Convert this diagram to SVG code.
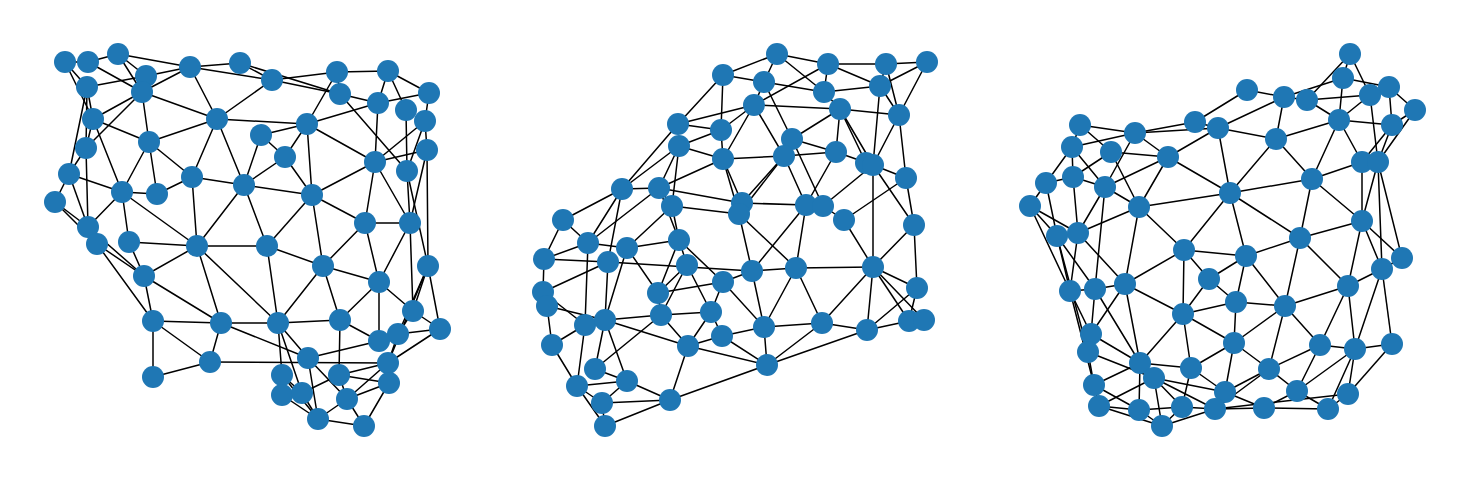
<svg xmlns="http://www.w3.org/2000/svg" width="1469" height="480" viewBox="0 0 1469 480">
<style>
.e line{stroke:#000;stroke-width:1.5;stroke-linecap:round}
.n circle{fill:#1f77b4}
</style>
<rect width="1469" height="480" fill="#fff"/>
<g id="connectors" class="e">
<line x1="65" y1="62" x2="88" y2="62"/><line x1="88" y1="62" x2="118" y2="54"/><line x1="65" y1="62" x2="87" y2="87"/><line x1="65" y1="62" x2="93" y2="119"/><line x1="87" y1="87" x2="93" y2="119"/><line x1="87" y1="87" x2="86" y2="148"/><line x1="87" y1="87" x2="69" y2="174"/><line x1="118" y1="54" x2="146" y2="76"/><line x1="118" y1="54" x2="142" y2="92"/><line x1="88" y1="62" x2="142" y2="92"/><line x1="118" y1="54" x2="190" y2="67"/><line x1="146" y1="76" x2="190" y2="67"/><line x1="87" y1="87" x2="146" y2="76"/><line x1="142" y1="92" x2="190" y2="67"/><line x1="190" y1="67" x2="240" y2="63"/><line x1="190" y1="67" x2="272" y2="80"/><line x1="190" y1="67" x2="217" y2="119"/><line x1="142" y1="92" x2="217" y2="119"/><line x1="142" y1="92" x2="93" y2="119"/><line x1="142" y1="92" x2="86" y2="148"/><line x1="142" y1="92" x2="149" y2="142"/><line x1="240" y1="63" x2="272" y2="80"/><line x1="240" y1="63" x2="340" y2="94"/><line x1="272" y1="80" x2="340" y2="94"/><line x1="272" y1="80" x2="337" y2="72"/><line x1="272" y1="80" x2="217" y2="119"/><line x1="337" y1="72" x2="340" y2="94"/><line x1="337" y1="72" x2="388" y2="71"/><line x1="337" y1="72" x2="307" y2="124"/><line x1="340" y1="94" x2="378" y2="103"/><line x1="340" y1="94" x2="407" y2="171"/><line x1="388" y1="71" x2="378" y2="103"/><line x1="388" y1="71" x2="406" y2="110"/><line x1="388" y1="71" x2="429" y2="93"/><line x1="429" y1="93" x2="378" y2="103"/><line x1="429" y1="93" x2="425" y2="121"/><line x1="378" y1="103" x2="375" y2="162"/><line x1="378" y1="103" x2="307" y2="124"/><line x1="406" y1="110" x2="407" y2="171"/><line x1="425" y1="121" x2="427" y2="150"/><line x1="425" y1="121" x2="375" y2="162"/><line x1="427" y1="150" x2="375" y2="162"/><line x1="427" y1="150" x2="410" y2="223"/><line x1="427" y1="150" x2="428" y2="266"/><line x1="425" y1="121" x2="407" y2="171"/>
<line x1="217" y1="119" x2="307" y2="124"/><line x1="217" y1="119" x2="149" y2="142"/><line x1="217" y1="119" x2="192" y2="177"/><line x1="217" y1="119" x2="244" y2="185"/><line x1="307" y1="124" x2="261" y2="135"/><line x1="307" y1="124" x2="285" y2="157"/><line x1="307" y1="124" x2="312" y2="195"/><line x1="307" y1="124" x2="375" y2="162"/><line x1="261" y1="135" x2="285" y2="157"/><line x1="261" y1="135" x2="244" y2="185"/><line x1="285" y1="157" x2="244" y2="185"/><line x1="285" y1="157" x2="312" y2="195"/><line x1="244" y1="185" x2="312" y2="195"/><line x1="312" y1="195" x2="375" y2="162"/><line x1="312" y1="195" x2="365" y2="223"/><line x1="312" y1="195" x2="267" y2="246"/><line x1="312" y1="195" x2="323" y2="266"/><line x1="375" y1="162" x2="365" y2="223"/><line x1="375" y1="162" x2="410" y2="223"/><line x1="365" y1="223" x2="410" y2="223"/><line x1="407" y1="171" x2="410" y2="223"/><line x1="407" y1="171" x2="428" y2="266"/><line x1="365" y1="223" x2="323" y2="266"/><line x1="365" y1="223" x2="379" y2="282"/><line x1="410" y1="223" x2="379" y2="282"/><line x1="410" y1="223" x2="413" y2="311"/><line x1="244" y1="185" x2="267" y2="246"/><line x1="244" y1="185" x2="192" y2="177"/><line x1="244" y1="185" x2="197" y2="246"/><line x1="192" y1="177" x2="157" y2="194"/><line x1="192" y1="177" x2="197" y2="246"/><line x1="149" y1="142" x2="93" y2="119"/><line x1="149" y1="142" x2="122" y2="192"/><line x1="149" y1="142" x2="157" y2="194"/><line x1="149" y1="142" x2="192" y2="177"/><line x1="93" y1="119" x2="122" y2="192"/><line x1="93" y1="119" x2="86" y2="148"/><line x1="86" y1="148" x2="69" y2="174"/><line x1="86" y1="148" x2="88" y2="227"/><line x1="69" y1="174" x2="122" y2="192"/><line x1="69" y1="174" x2="55" y2="202"/><line x1="69" y1="174" x2="88" y2="227"/><line x1="55" y1="202" x2="88" y2="227"/><line x1="55" y1="202" x2="97" y2="244"/><line x1="122" y1="192" x2="157" y2="194"/><line x1="122" y1="192" x2="88" y2="227"/><line x1="122" y1="192" x2="129" y2="242"/><line x1="122" y1="192" x2="197" y2="246"/><line x1="129" y1="242" x2="197" y2="246"/><line x1="197" y1="246" x2="267" y2="246"/><line x1="197" y1="246" x2="144" y2="276"/><line x1="197" y1="246" x2="221" y2="323"/><line x1="197" y1="246" x2="278" y2="323"/><line x1="88" y1="227" x2="144" y2="276"/><line x1="97" y1="244" x2="144" y2="276"/><line x1="97" y1="244" x2="153" y2="321"/><line x1="129" y1="242" x2="144" y2="276"/><line x1="144" y1="276" x2="221" y2="323"/><line x1="144" y1="276" x2="153" y2="321"/><line x1="153" y1="321" x2="221" y2="323"/><line x1="153" y1="321" x2="210" y2="362"/><line x1="153" y1="321" x2="153" y2="377"/><line x1="153" y1="377" x2="210" y2="362"/><line x1="221" y1="323" x2="210" y2="362"/><line x1="221" y1="323" x2="278" y2="323"/><line x1="221" y1="323" x2="308" y2="358"/><line x1="210" y1="362" x2="388" y2="363"/><line x1="267" y1="246" x2="323" y2="266"/><line x1="267" y1="246" x2="278" y2="323"/><line x1="323" y1="266" x2="379" y2="282"/><line x1="323" y1="266" x2="278" y2="323"/><line x1="323" y1="266" x2="340" y2="320"/><line x1="379" y1="282" x2="340" y2="320"/><line x1="379" y1="282" x2="413" y2="311"/><line x1="379" y1="282" x2="379" y2="341"/><line x1="428" y1="266" x2="440" y2="329"/><line x1="428" y1="266" x2="398" y2="334"/><line x1="428" y1="266" x2="388" y2="363"/><line x1="413" y1="311" x2="440" y2="329"/><line x1="413" y1="311" x2="398" y2="334"/><line x1="440" y1="329" x2="398" y2="334"/><line x1="440" y1="329" x2="388" y2="363"/><line x1="278" y1="323" x2="340" y2="320"/><line x1="278" y1="323" x2="282" y2="375"/><line x1="278" y1="323" x2="302" y2="393"/><line x1="278" y1="323" x2="308" y2="358"/><line x1="340" y1="320" x2="379" y2="341"/><line x1="340" y1="320" x2="339" y2="375"/><line x1="308" y1="358" x2="379" y2="341"/><line x1="308" y1="358" x2="318" y2="419"/><line x1="308" y1="358" x2="347" y2="399"/><line x1="388" y1="363" x2="339" y2="375"/><line x1="388" y1="363" x2="347" y2="399"/><line x1="388" y1="363" x2="389" y2="383"/><line x1="398" y1="334" x2="388" y2="363"/><line x1="282" y1="375" x2="282" y2="395"/><line x1="282" y1="375" x2="302" y2="393"/><line x1="339" y1="375" x2="389" y2="383"/><line x1="339" y1="375" x2="302" y2="393"/><line x1="339" y1="375" x2="347" y2="399"/><line x1="389" y1="383" x2="347" y2="399"/><line x1="389" y1="383" x2="364" y2="426"/><line x1="282" y1="395" x2="318" y2="419"/><line x1="302" y1="393" x2="318" y2="419"/><line x1="347" y1="399" x2="318" y2="419"/><line x1="318" y1="419" x2="364" y2="426"/><line x1="347" y1="399" x2="364" y2="426"/><line x1="398" y1="334" x2="379" y2="341"/><line x1="413" y1="311" x2="428" y2="266"/><line x1="282" y1="375" x2="318" y2="419"/>
<line x1="777" y1="54" x2="723" y2="75"/><line x1="777" y1="54" x2="828" y2="64"/><line x1="777" y1="54" x2="824" y2="92"/><line x1="777" y1="54" x2="764" y2="82"/><line x1="828" y1="64" x2="886" y2="64"/><line x1="828" y1="64" x2="824" y2="92"/><line x1="828" y1="64" x2="880" y2="86"/><line x1="828" y1="64" x2="754" y2="105"/><line x1="886" y1="64" x2="927" y2="62"/><line x1="886" y1="64" x2="880" y2="86"/><line x1="886" y1="64" x2="899" y2="115"/><line x1="927" y1="62" x2="880" y2="86"/><line x1="927" y1="62" x2="899" y2="115"/><line x1="723" y1="75" x2="764" y2="82"/><line x1="723" y1="75" x2="678" y2="124"/><line x1="723" y1="75" x2="721" y2="130"/><line x1="764" y1="82" x2="824" y2="92"/><line x1="764" y1="82" x2="754" y2="105"/><line x1="764" y1="82" x2="792" y2="139"/><line x1="824" y1="92" x2="880" y2="86"/><line x1="824" y1="92" x2="840" y2="109"/><line x1="880" y1="86" x2="899" y2="115"/><line x1="880" y1="86" x2="873" y2="165"/><line x1="754" y1="105" x2="840" y2="109"/><line x1="754" y1="105" x2="678" y2="124"/><line x1="754" y1="105" x2="721" y2="130"/><line x1="754" y1="105" x2="723" y2="159"/><line x1="754" y1="105" x2="784" y2="156"/><line x1="840" y1="109" x2="899" y2="115"/><line x1="840" y1="109" x2="792" y2="139"/><line x1="840" y1="109" x2="836" y2="152"/><line x1="840" y1="109" x2="866" y2="163"/><line x1="840" y1="109" x2="873" y2="165"/><line x1="899" y1="115" x2="873" y2="165"/><line x1="899" y1="115" x2="906" y2="178"/><line x1="678" y1="124" x2="721" y2="130"/><line x1="678" y1="124" x2="622" y2="189"/><line x1="721" y1="130" x2="679" y2="146"/><line x1="721" y1="130" x2="723" y2="159"/><line x1="679" y1="146" x2="723" y2="159"/><line x1="679" y1="146" x2="622" y2="189"/><line x1="679" y1="146" x2="659" y2="188"/><line x1="679" y1="146" x2="672" y2="206"/><line x1="723" y1="159" x2="659" y2="188"/><line x1="723" y1="159" x2="742" y2="203"/><line x1="723" y1="159" x2="739" y2="214"/><line x1="723" y1="159" x2="784" y2="156"/><line x1="792" y1="139" x2="836" y2="152"/><line x1="792" y1="139" x2="823" y2="206"/><line x1="784" y1="156" x2="836" y2="152"/><line x1="784" y1="156" x2="742" y2="203"/><line x1="784" y1="156" x2="739" y2="214"/><line x1="784" y1="156" x2="806" y2="205"/><line x1="836" y1="152" x2="873" y2="165"/><line x1="836" y1="152" x2="806" y2="205"/><line x1="873" y1="165" x2="906" y2="178"/><line x1="873" y1="165" x2="823" y2="206"/><line x1="873" y1="165" x2="873" y2="267"/><line x1="873" y1="165" x2="914" y2="225"/><line x1="906" y1="178" x2="844" y2="220"/><line x1="906" y1="178" x2="914" y2="225"/><line x1="622" y1="189" x2="659" y2="188"/><line x1="622" y1="189" x2="563" y2="220"/><line x1="622" y1="189" x2="588" y2="243"/><line x1="622" y1="189" x2="608" y2="262"/><line x1="659" y1="188" x2="672" y2="206"/><line x1="659" y1="188" x2="742" y2="203"/><line x1="659" y1="188" x2="588" y2="243"/><line x1="659" y1="188" x2="679" y2="240"/><line x1="672" y1="206" x2="739" y2="214"/><line x1="672" y1="206" x2="679" y2="240"/><line x1="672" y1="206" x2="627" y2="248"/><line x1="742" y1="203" x2="806" y2="205"/><line x1="739" y1="214" x2="752" y2="271"/><line x1="806" y1="205" x2="796" y2="268"/><line x1="806" y1="205" x2="752" y2="271"/><line x1="823" y1="206" x2="844" y2="220"/><line x1="739" y1="214" x2="796" y2="268"/><line x1="844" y1="220" x2="873" y2="267"/><line x1="914" y1="225" x2="917" y2="288"/><line x1="914" y1="225" x2="873" y2="267"/><line x1="563" y1="220" x2="588" y2="243"/><line x1="563" y1="220" x2="544" y2="259"/><line x1="588" y1="243" x2="544" y2="259"/><line x1="588" y1="243" x2="627" y2="248"/><line x1="588" y1="243" x2="585" y2="325"/><line x1="627" y1="248" x2="679" y2="240"/><line x1="627" y1="248" x2="658" y2="293"/><line x1="627" y1="248" x2="605" y2="320"/><line x1="679" y1="240" x2="658" y2="293"/><line x1="679" y1="240" x2="723" y2="282"/><line x1="687" y1="265" x2="658" y2="293"/><line x1="687" y1="265" x2="711" y2="312"/><line x1="687" y1="265" x2="661" y2="315"/><line x1="679" y1="240" x2="687" y2="265"/><line x1="723" y1="282" x2="658" y2="293"/><line x1="723" y1="282" x2="711" y2="312"/><line x1="723" y1="282" x2="752" y2="271"/><line x1="544" y1="259" x2="543" y2="292"/><line x1="544" y1="259" x2="608" y2="262"/><line x1="608" y1="262" x2="752" y2="271"/><line x1="543" y1="292" x2="608" y2="262"/><line x1="543" y1="292" x2="585" y2="325"/><line x1="547" y1="306" x2="605" y2="320"/><line x1="547" y1="306" x2="552" y2="345"/><line x1="608" y1="262" x2="605" y2="320"/><line x1="658" y1="293" x2="661" y2="315"/><line x1="605" y1="320" x2="661" y2="315"/><line x1="605" y1="320" x2="688" y2="346"/><line x1="605" y1="320" x2="627" y2="381"/><line x1="605" y1="320" x2="595" y2="369"/><line x1="585" y1="325" x2="552" y2="345"/><line x1="585" y1="325" x2="577" y2="386"/><line x1="661" y1="315" x2="711" y2="312"/><line x1="661" y1="315" x2="688" y2="346"/><line x1="661" y1="315" x2="595" y2="369"/><line x1="711" y1="312" x2="722" y2="336"/><line x1="711" y1="312" x2="688" y2="346"/><line x1="722" y1="336" x2="688" y2="346"/><line x1="722" y1="336" x2="764" y2="327"/><line x1="722" y1="336" x2="767" y2="365"/><line x1="688" y1="346" x2="670" y2="400"/><line x1="688" y1="346" x2="767" y2="365"/><line x1="552" y1="345" x2="577" y2="386"/><line x1="577" y1="386" x2="627" y2="381"/><line x1="577" y1="386" x2="602" y2="403"/><line x1="577" y1="386" x2="605" y2="426"/><line x1="627" y1="381" x2="602" y2="403"/><line x1="627" y1="381" x2="670" y2="400"/><line x1="602" y1="403" x2="670" y2="400"/><line x1="602" y1="403" x2="605" y2="426"/><line x1="670" y1="400" x2="767" y2="365"/><line x1="605" y1="426" x2="670" y2="400"/><line x1="752" y1="271" x2="796" y2="268"/><line x1="752" y1="271" x2="764" y2="327"/><line x1="796" y1="268" x2="873" y2="267"/><line x1="796" y1="268" x2="764" y2="327"/><line x1="796" y1="268" x2="822" y2="323"/><line x1="873" y1="267" x2="822" y2="323"/><line x1="873" y1="267" x2="867" y2="330"/><line x1="873" y1="267" x2="917" y2="288"/><line x1="873" y1="267" x2="909" y2="321"/><line x1="873" y1="267" x2="924" y2="320"/><line x1="917" y1="288" x2="867" y2="330"/><line x1="917" y1="288" x2="909" y2="321"/><line x1="723" y1="282" x2="764" y2="327"/><line x1="764" y1="327" x2="822" y2="323"/><line x1="764" y1="327" x2="767" y2="365"/><line x1="822" y1="323" x2="867" y2="330"/><line x1="822" y1="323" x2="767" y2="365"/><line x1="867" y1="330" x2="909" y2="321"/><line x1="867" y1="330" x2="767" y2="365"/><line x1="595" y1="369" x2="627" y2="381"/>
<line x1="1350" y1="54" x2="1343" y2="78"/><line x1="1350" y1="54" x2="1370" y2="95"/><line x1="1350" y1="54" x2="1307" y2="100"/><line x1="1343" y1="78" x2="1389" y2="87"/><line x1="1343" y1="78" x2="1284" y2="97"/><line x1="1343" y1="78" x2="1339" y2="120"/><line x1="1389" y1="87" x2="1370" y2="95"/><line x1="1389" y1="87" x2="1415" y2="110"/><line x1="1389" y1="87" x2="1392" y2="125"/><line x1="1370" y1="95" x2="1307" y2="100"/><line x1="1370" y1="95" x2="1339" y2="120"/><line x1="1370" y1="95" x2="1378" y2="162"/><line x1="1415" y1="110" x2="1392" y2="125"/><line x1="1415" y1="110" x2="1378" y2="162"/><line x1="1247" y1="90" x2="1284" y2="97"/><line x1="1247" y1="90" x2="1195" y2="122"/><line x1="1284" y1="97" x2="1307" y2="100"/><line x1="1284" y1="97" x2="1276" y2="139"/><line x1="1284" y1="97" x2="1218" y2="128"/><line x1="1307" y1="100" x2="1339" y2="120"/><line x1="1339" y1="120" x2="1392" y2="125"/><line x1="1339" y1="120" x2="1276" y2="139"/><line x1="1339" y1="120" x2="1362" y2="162"/><line x1="1339" y1="120" x2="1312" y2="179"/><line x1="1392" y1="125" x2="1362" y2="162"/><line x1="1392" y1="125" x2="1378" y2="162"/><line x1="1195" y1="122" x2="1218" y2="128"/><line x1="1195" y1="122" x2="1135" y2="133"/><line x1="1218" y1="128" x2="1135" y2="133"/><line x1="1218" y1="128" x2="1168" y2="157"/><line x1="1218" y1="128" x2="1276" y2="139"/><line x1="1218" y1="128" x2="1230" y2="193"/><line x1="1080" y1="125" x2="1135" y2="133"/><line x1="1080" y1="125" x2="1111" y2="152"/><line x1="1080" y1="125" x2="1072" y2="147"/><line x1="1135" y1="133" x2="1072" y2="147"/><line x1="1135" y1="133" x2="1168" y2="157"/><line x1="1135" y1="133" x2="1105" y2="187"/><line x1="1072" y1="147" x2="1046" y2="183"/><line x1="1072" y1="147" x2="1073" y2="177"/><line x1="1072" y1="147" x2="1105" y2="187"/><line x1="1111" y1="152" x2="1168" y2="157"/><line x1="1111" y1="152" x2="1073" y2="177"/><line x1="1111" y1="152" x2="1139" y2="207"/><line x1="1168" y1="157" x2="1105" y2="187"/><line x1="1168" y1="157" x2="1139" y2="207"/><line x1="1168" y1="157" x2="1230" y2="193"/><line x1="1276" y1="139" x2="1230" y2="193"/><line x1="1276" y1="139" x2="1312" y2="179"/><line x1="1362" y1="162" x2="1312" y2="179"/><line x1="1362" y1="162" x2="1362" y2="221"/><line x1="1378" y1="162" x2="1362" y2="221"/><line x1="1378" y1="162" x2="1402" y2="258"/><line x1="1046" y1="183" x2="1073" y2="177"/><line x1="1046" y1="183" x2="1030" y2="206"/><line x1="1046" y1="183" x2="1057" y2="236"/><line x1="1073" y1="177" x2="1105" y2="187"/><line x1="1073" y1="177" x2="1078" y2="233"/><line x1="1105" y1="187" x2="1139" y2="207"/><line x1="1105" y1="187" x2="1078" y2="233"/><line x1="1105" y1="187" x2="1095" y2="289"/><line x1="1030" y1="206" x2="1057" y2="236"/><line x1="1030" y1="206" x2="1078" y2="233"/><line x1="1030" y1="206" x2="1070" y2="291"/><line x1="1139" y1="207" x2="1230" y2="193"/><line x1="1139" y1="207" x2="1078" y2="233"/><line x1="1139" y1="207" x2="1184" y2="250"/><line x1="1139" y1="207" x2="1125" y2="284"/><line x1="1230" y1="193" x2="1312" y2="179"/><line x1="1230" y1="193" x2="1184" y2="250"/><line x1="1230" y1="193" x2="1300" y2="238"/><line x1="1230" y1="193" x2="1246" y2="256"/><line x1="1312" y1="179" x2="1362" y2="221"/><line x1="1312" y1="179" x2="1300" y2="238"/><line x1="1362" y1="221" x2="1300" y2="238"/><line x1="1362" y1="221" x2="1402" y2="258"/><line x1="1362" y1="221" x2="1348" y2="286"/><line x1="1362" y1="221" x2="1382" y2="269"/><line x1="1378" y1="162" x2="1382" y2="269"/><line x1="1057" y1="236" x2="1078" y2="233"/><line x1="1057" y1="236" x2="1070" y2="291"/><line x1="1057" y1="236" x2="1095" y2="289"/><line x1="1078" y1="233" x2="1070" y2="291"/><line x1="1078" y1="233" x2="1125" y2="284"/><line x1="1184" y1="250" x2="1246" y2="256"/><line x1="1184" y1="250" x2="1209" y2="279"/><line x1="1184" y1="250" x2="1125" y2="284"/><line x1="1184" y1="250" x2="1183" y2="314"/><line x1="1300" y1="238" x2="1246" y2="256"/><line x1="1300" y1="238" x2="1348" y2="286"/><line x1="1300" y1="238" x2="1285" y2="306"/><line x1="1246" y1="256" x2="1209" y2="279"/><line x1="1246" y1="256" x2="1236" y2="302"/><line x1="1246" y1="256" x2="1285" y2="306"/><line x1="1402" y1="258" x2="1382" y2="269"/><line x1="1382" y1="269" x2="1348" y2="286"/><line x1="1382" y1="269" x2="1355" y2="349"/><line x1="1382" y1="269" x2="1392" y2="344"/><line x1="1209" y1="279" x2="1236" y2="302"/><line x1="1209" y1="279" x2="1183" y2="314"/><line x1="1070" y1="291" x2="1095" y2="289"/><line x1="1070" y1="291" x2="1091" y2="334"/><line x1="1070" y1="291" x2="1094" y2="385"/><line x1="1095" y1="289" x2="1125" y2="284"/><line x1="1095" y1="289" x2="1091" y2="334"/><line x1="1095" y1="289" x2="1140" y2="363"/><line x1="1125" y1="284" x2="1183" y2="314"/><line x1="1125" y1="284" x2="1091" y2="334"/><line x1="1125" y1="284" x2="1140" y2="363"/><line x1="1348" y1="286" x2="1285" y2="306"/><line x1="1348" y1="286" x2="1320" y2="345"/><line x1="1348" y1="286" x2="1355" y2="349"/><line x1="1236" y1="302" x2="1183" y2="314"/><line x1="1236" y1="302" x2="1285" y2="306"/><line x1="1236" y1="302" x2="1234" y2="343"/><line x1="1183" y1="314" x2="1234" y2="343"/><line x1="1183" y1="314" x2="1140" y2="363"/><line x1="1183" y1="314" x2="1191" y2="368"/><line x1="1285" y1="306" x2="1234" y2="343"/><line x1="1285" y1="306" x2="1320" y2="345"/><line x1="1285" y1="306" x2="1269" y2="369"/><line x1="1091" y1="334" x2="1088" y2="352"/><line x1="1091" y1="334" x2="1140" y2="363"/><line x1="1088" y1="352" x2="1154" y2="378"/><line x1="1088" y1="352" x2="1094" y2="385"/><line x1="1234" y1="343" x2="1191" y2="368"/><line x1="1234" y1="343" x2="1269" y2="369"/><line x1="1234" y1="343" x2="1225" y2="392"/><line x1="1320" y1="345" x2="1355" y2="349"/><line x1="1320" y1="345" x2="1269" y2="369"/><line x1="1320" y1="345" x2="1297" y2="391"/><line x1="1355" y1="349" x2="1392" y2="344"/><line x1="1355" y1="349" x2="1297" y2="391"/><line x1="1355" y1="349" x2="1348" y2="394"/><line x1="1355" y1="349" x2="1328" y2="409"/><line x1="1392" y1="344" x2="1348" y2="394"/><line x1="1140" y1="363" x2="1154" y2="378"/><line x1="1140" y1="363" x2="1191" y2="368"/><line x1="1140" y1="363" x2="1094" y2="385"/><line x1="1140" y1="363" x2="1139" y2="410"/><line x1="1154" y1="378" x2="1225" y2="392"/><line x1="1154" y1="378" x2="1099" y2="406"/><line x1="1154" y1="378" x2="1182" y2="407"/><line x1="1154" y1="378" x2="1215" y2="409"/><line x1="1154" y1="378" x2="1162" y2="426"/><line x1="1191" y1="368" x2="1225" y2="392"/><line x1="1191" y1="368" x2="1182" y2="407"/><line x1="1269" y1="369" x2="1225" y2="392"/><line x1="1269" y1="369" x2="1297" y2="391"/><line x1="1269" y1="369" x2="1215" y2="409"/><line x1="1094" y1="385" x2="1099" y2="406"/><line x1="1094" y1="385" x2="1139" y2="410"/><line x1="1225" y1="392" x2="1264" y2="408"/><line x1="1297" y1="391" x2="1264" y2="408"/><line x1="1297" y1="391" x2="1328" y2="409"/><line x1="1348" y1="394" x2="1328" y2="409"/><line x1="1348" y1="394" x2="1215" y2="409"/><line x1="1099" y1="406" x2="1139" y2="410"/><line x1="1139" y1="410" x2="1182" y2="407"/><line x1="1139" y1="410" x2="1162" y2="426"/><line x1="1182" y1="407" x2="1215" y2="409"/><line x1="1182" y1="407" x2="1162" y2="426"/><line x1="1215" y1="409" x2="1264" y2="408"/><line x1="1215" y1="409" x2="1162" y2="426"/><line x1="1264" y1="408" x2="1328" y2="409"/><line x1="1099" y1="406" x2="1162" y2="426"/><line x1="1057" y1="236" x2="1088" y2="352"/>
</g>
<g id="a1" class="n"><circle cx="65" cy="62" r="11"/></g>
<g id="a2" class="n"><circle cx="88" cy="62" r="11"/></g>
<g id="a3" class="n"><circle cx="118" cy="54" r="11"/></g>
<g id="a4" class="n"><circle cx="146" cy="76" r="11"/></g>
<g id="a5" class="n"><circle cx="87" cy="87" r="11"/></g>
<g id="a6" class="n"><circle cx="142" cy="92" r="11"/></g>
<g id="a7" class="n"><circle cx="190" cy="67" r="11"/></g>
<g id="a8" class="n"><circle cx="240" cy="63" r="11"/></g>
<g id="a9" class="n"><circle cx="272" cy="80" r="11"/></g>
<g id="a10" class="n"><circle cx="337" cy="72" r="11"/></g>
<g id="a11" class="n"><circle cx="340" cy="94" r="11"/></g>
<g id="a12" class="n"><circle cx="388" cy="71" r="11"/></g>
<g id="a13" class="n"><circle cx="429" cy="93" r="11"/></g>
<g id="a14" class="n"><circle cx="378" cy="103" r="11"/></g>
<g id="a15" class="n"><circle cx="406" cy="110" r="11"/></g>
<g id="a16" class="n"><circle cx="425" cy="121" r="11"/></g>
<g id="a17" class="n"><circle cx="427" cy="150" r="11"/></g>
<g id="a18" class="n"><circle cx="93" cy="119" r="11"/></g>
<g id="a19" class="n"><circle cx="217" cy="119" r="11"/></g>
<g id="a20" class="n"><circle cx="307" cy="124" r="11"/></g>
<g id="a21" class="n"><circle cx="261" cy="135" r="11"/></g>
<g id="a22" class="n"><circle cx="149" cy="142" r="11"/></g>
<g id="a23" class="n"><circle cx="86" cy="148" r="11"/></g>
<g id="a24" class="n"><circle cx="285" cy="157" r="11"/></g>
<g id="a25" class="n"><circle cx="375" cy="162" r="11"/></g>
<g id="a26" class="n"><circle cx="407" cy="171" r="11"/></g>
<g id="a27" class="n"><circle cx="69" cy="174" r="11"/></g>
<g id="a28" class="n"><circle cx="192" cy="177" r="11"/></g>
<g id="a29" class="n"><circle cx="122" cy="192" r="11"/></g>
<g id="a30" class="n"><circle cx="157" cy="194" r="11"/></g>
<g id="a31" class="n"><circle cx="244" cy="185" r="11"/></g>
<g id="a32" class="n"><circle cx="312" cy="195" r="11"/></g>
<g id="a33" class="n"><circle cx="55" cy="202" r="11"/></g>
<g id="a34" class="n"><circle cx="88" cy="227" r="11"/></g>
<g id="a35" class="n"><circle cx="97" cy="244" r="11"/></g>
<g id="a36" class="n"><circle cx="129" cy="242" r="11"/></g>
<g id="a37" class="n"><circle cx="197" cy="246" r="11"/></g>
<g id="a38" class="n"><circle cx="267" cy="246" r="11"/></g>
<g id="a39" class="n"><circle cx="365" cy="223" r="11"/></g>
<g id="a40" class="n"><circle cx="410" cy="223" r="11"/></g>
<g id="a41" class="n"><circle cx="144" cy="276" r="11"/></g>
<g id="a42" class="n"><circle cx="323" cy="266" r="11"/></g>
<g id="a43" class="n"><circle cx="428" cy="266" r="11"/></g>
<g id="a44" class="n"><circle cx="379" cy="282" r="11"/></g>
<g id="a45" class="n"><circle cx="153" cy="321" r="11"/></g>
<g id="a46" class="n"><circle cx="221" cy="323" r="11"/></g>
<g id="a47" class="n"><circle cx="278" cy="323" r="11"/></g>
<g id="a48" class="n"><circle cx="340" cy="320" r="11"/></g>
<g id="a49" class="n"><circle cx="413" cy="311" r="11"/></g>
<g id="a50" class="n"><circle cx="440" cy="329" r="11"/></g>
<g id="a51" class="n"><circle cx="398" cy="334" r="11"/></g>
<g id="a52" class="n"><circle cx="379" cy="341" r="11"/></g>
<g id="a53" class="n"><circle cx="210" cy="362" r="11"/></g>
<g id="a54" class="n"><circle cx="153" cy="377" r="11"/></g>
<g id="a55" class="n"><circle cx="308" cy="358" r="11"/></g>
<g id="a56" class="n"><circle cx="388" cy="363" r="11"/></g>
<g id="a57" class="n"><circle cx="282" cy="375" r="11"/></g>
<g id="a58" class="n"><circle cx="339" cy="375" r="11"/></g>
<g id="a59" class="n"><circle cx="389" cy="383" r="11"/></g>
<g id="a60" class="n"><circle cx="282" cy="395" r="11"/></g>
<g id="a61" class="n"><circle cx="302" cy="393" r="11"/></g>
<g id="a62" class="n"><circle cx="347" cy="399" r="11"/></g>
<g id="a63" class="n"><circle cx="318" cy="419" r="11"/></g>
<g id="a64" class="n"><circle cx="364" cy="426" r="11"/></g>
<g id="b1" class="n"><circle cx="777" cy="54" r="11"/></g>
<g id="b2" class="n"><circle cx="828" cy="64" r="11"/></g>
<g id="b3" class="n"><circle cx="886" cy="64" r="11"/></g>
<g id="b4" class="n"><circle cx="927" cy="62" r="11"/></g>
<g id="b5" class="n"><circle cx="723" cy="75" r="11"/></g>
<g id="b6" class="n"><circle cx="764" cy="82" r="11"/></g>
<g id="b7" class="n"><circle cx="824" cy="92" r="11"/></g>
<g id="b8" class="n"><circle cx="880" cy="86" r="11"/></g>
<g id="b9" class="n"><circle cx="754" cy="105" r="11"/></g>
<g id="b10" class="n"><circle cx="840" cy="109" r="11"/></g>
<g id="b11" class="n"><circle cx="899" cy="115" r="11"/></g>
<g id="b12" class="n"><circle cx="678" cy="124" r="11"/></g>
<g id="b13" class="n"><circle cx="721" cy="130" r="11"/></g>
<g id="b14" class="n"><circle cx="679" cy="146" r="11"/></g>
<g id="b15" class="n"><circle cx="723" cy="159" r="11"/></g>
<g id="b16" class="n"><circle cx="792" cy="139" r="11"/></g>
<g id="b17" class="n"><circle cx="784" cy="156" r="11"/></g>
<g id="b18" class="n"><circle cx="836" cy="152" r="11"/></g>
<g id="b19" class="n"><circle cx="866" cy="163" r="11"/></g>
<g id="b20" class="n"><circle cx="873" cy="165" r="11"/></g>
<g id="b21" class="n"><circle cx="906" cy="178" r="11"/></g>
<g id="b22" class="n"><circle cx="622" cy="189" r="11"/></g>
<g id="b23" class="n"><circle cx="659" cy="188" r="11"/></g>
<g id="b24" class="n"><circle cx="672" cy="206" r="11"/></g>
<g id="b25" class="n"><circle cx="742" cy="203" r="11"/></g>
<g id="b26" class="n"><circle cx="739" cy="214" r="11"/></g>
<g id="b27" class="n"><circle cx="806" cy="205" r="11"/></g>
<g id="b28" class="n"><circle cx="823" cy="206" r="11"/></g>
<g id="b29" class="n"><circle cx="844" cy="220" r="11"/></g>
<g id="b30" class="n"><circle cx="914" cy="225" r="11"/></g>
<g id="b31" class="n"><circle cx="563" cy="220" r="11"/></g>
<g id="b32" class="n"><circle cx="588" cy="243" r="11"/></g>
<g id="b33" class="n"><circle cx="627" cy="248" r="11"/></g>
<g id="b34" class="n"><circle cx="679" cy="240" r="11"/></g>
<g id="b35" class="n"><circle cx="544" cy="259" r="11"/></g>
<g id="b36" class="n"><circle cx="608" cy="262" r="11"/></g>
<g id="b37" class="n"><circle cx="687" cy="265" r="11"/></g>
<g id="b38" class="n"><circle cx="752" cy="271" r="11"/></g>
<g id="b39" class="n"><circle cx="796" cy="268" r="11"/></g>
<g id="b40" class="n"><circle cx="873" cy="267" r="11"/></g>
<g id="b41" class="n"><circle cx="917" cy="288" r="11"/></g>
<g id="b42" class="n"><circle cx="723" cy="282" r="11"/></g>
<g id="b43" class="n"><circle cx="543" cy="292" r="11"/></g>
<g id="b44" class="n"><circle cx="547" cy="306" r="11"/></g>
<g id="b45" class="n"><circle cx="658" cy="293" r="11"/></g>
<g id="b46" class="n"><circle cx="585" cy="325" r="11"/></g>
<g id="b47" class="n"><circle cx="605" cy="320" r="11"/></g>
<g id="b48" class="n"><circle cx="661" cy="315" r="11"/></g>
<g id="b49" class="n"><circle cx="711" cy="312" r="11"/></g>
<g id="b50" class="n"><circle cx="722" cy="336" r="11"/></g>
<g id="b51" class="n"><circle cx="764" cy="327" r="11"/></g>
<g id="b52" class="n"><circle cx="822" cy="323" r="11"/></g>
<g id="b53" class="n"><circle cx="867" cy="330" r="11"/></g>
<g id="b54" class="n"><circle cx="909" cy="321" r="11"/></g>
<g id="b55" class="n"><circle cx="924" cy="320" r="11"/></g>
<g id="b56" class="n"><circle cx="552" cy="345" r="11"/></g>
<g id="b57" class="n"><circle cx="688" cy="346" r="11"/></g>
<g id="b58" class="n"><circle cx="767" cy="365" r="11"/></g>
<g id="b59" class="n"><circle cx="595" cy="369" r="11"/></g>
<g id="b60" class="n"><circle cx="577" cy="386" r="11"/></g>
<g id="b61" class="n"><circle cx="627" cy="381" r="11"/></g>
<g id="b62" class="n"><circle cx="602" cy="403" r="11"/></g>
<g id="b63" class="n"><circle cx="670" cy="400" r="11"/></g>
<g id="b64" class="n"><circle cx="605" cy="426" r="11"/></g>
<g id="c1" class="n"><circle cx="1350" cy="54" r="11"/></g>
<g id="c2" class="n"><circle cx="1343" cy="78" r="11"/></g>
<g id="c3" class="n"><circle cx="1389" cy="87" r="11"/></g>
<g id="c4" class="n"><circle cx="1370" cy="95" r="11"/></g>
<g id="c5" class="n"><circle cx="1415" cy="110" r="11"/></g>
<g id="c6" class="n"><circle cx="1247" cy="90" r="11"/></g>
<g id="c7" class="n"><circle cx="1284" cy="97" r="11"/></g>
<g id="c8" class="n"><circle cx="1307" cy="100" r="11"/></g>
<g id="c9" class="n"><circle cx="1339" cy="120" r="11"/></g>
<g id="c10" class="n"><circle cx="1392" cy="125" r="11"/></g>
<g id="c11" class="n"><circle cx="1195" cy="122" r="11"/></g>
<g id="c12" class="n"><circle cx="1218" cy="128" r="11"/></g>
<g id="c13" class="n"><circle cx="1080" cy="125" r="11"/></g>
<g id="c14" class="n"><circle cx="1135" cy="133" r="11"/></g>
<g id="c15" class="n"><circle cx="1072" cy="147" r="11"/></g>
<g id="c16" class="n"><circle cx="1111" cy="152" r="11"/></g>
<g id="c17" class="n"><circle cx="1168" cy="157" r="11"/></g>
<g id="c18" class="n"><circle cx="1276" cy="139" r="11"/></g>
<g id="c19" class="n"><circle cx="1362" cy="162" r="11"/></g>
<g id="c20" class="n"><circle cx="1378" cy="162" r="11"/></g>
<g id="c21" class="n"><circle cx="1046" cy="183" r="11"/></g>
<g id="c22" class="n"><circle cx="1073" cy="177" r="11"/></g>
<g id="c23" class="n"><circle cx="1105" cy="187" r="11"/></g>
<g id="c24" class="n"><circle cx="1030" cy="206" r="11"/></g>
<g id="c25" class="n"><circle cx="1139" cy="207" r="11"/></g>
<g id="c26" class="n"><circle cx="1230" cy="193" r="11"/></g>
<g id="c27" class="n"><circle cx="1312" cy="179" r="11"/></g>
<g id="c28" class="n"><circle cx="1362" cy="221" r="11"/></g>
<g id="c29" class="n"><circle cx="1057" cy="236" r="11"/></g>
<g id="c30" class="n"><circle cx="1078" cy="233" r="11"/></g>
<g id="c31" class="n"><circle cx="1184" cy="250" r="11"/></g>
<g id="c32" class="n"><circle cx="1300" cy="238" r="11"/></g>
<g id="c33" class="n"><circle cx="1246" cy="256" r="11"/></g>
<g id="c34" class="n"><circle cx="1402" cy="258" r="11"/></g>
<g id="c35" class="n"><circle cx="1382" cy="269" r="11"/></g>
<g id="c36" class="n"><circle cx="1209" cy="279" r="11"/></g>
<g id="c37" class="n"><circle cx="1070" cy="291" r="11"/></g>
<g id="c38" class="n"><circle cx="1095" cy="289" r="11"/></g>
<g id="c39" class="n"><circle cx="1125" cy="284" r="11"/></g>
<g id="c40" class="n"><circle cx="1348" cy="286" r="11"/></g>
<g id="c41" class="n"><circle cx="1236" cy="302" r="11"/></g>
<g id="c42" class="n"><circle cx="1183" cy="314" r="11"/></g>
<g id="c43" class="n"><circle cx="1285" cy="306" r="11"/></g>
<g id="c44" class="n"><circle cx="1091" cy="334" r="11"/></g>
<g id="c45" class="n"><circle cx="1088" cy="352" r="11"/></g>
<g id="c46" class="n"><circle cx="1234" cy="343" r="11"/></g>
<g id="c47" class="n"><circle cx="1320" cy="345" r="11"/></g>
<g id="c48" class="n"><circle cx="1355" cy="349" r="11"/></g>
<g id="c49" class="n"><circle cx="1392" cy="344" r="11"/></g>
<g id="c50" class="n"><circle cx="1140" cy="363" r="11"/></g>
<g id="c51" class="n"><circle cx="1154" cy="378" r="11"/></g>
<g id="c52" class="n"><circle cx="1191" cy="368" r="11"/></g>
<g id="c53" class="n"><circle cx="1269" cy="369" r="11"/></g>
<g id="c54" class="n"><circle cx="1094" cy="385" r="11"/></g>
<g id="c55" class="n"><circle cx="1225" cy="392" r="11"/></g>
<g id="c56" class="n"><circle cx="1297" cy="391" r="11"/></g>
<g id="c57" class="n"><circle cx="1348" cy="394" r="11"/></g>
<g id="c58" class="n"><circle cx="1099" cy="406" r="11"/></g>
<g id="c59" class="n"><circle cx="1139" cy="410" r="11"/></g>
<g id="c60" class="n"><circle cx="1182" cy="407" r="11"/></g>
<g id="c61" class="n"><circle cx="1215" cy="409" r="11"/></g>
<g id="c62" class="n"><circle cx="1264" cy="408" r="11"/></g>
<g id="c63" class="n"><circle cx="1328" cy="409" r="11"/></g>
<g id="c64" class="n"><circle cx="1162" cy="426" r="11"/></g>
</svg>
